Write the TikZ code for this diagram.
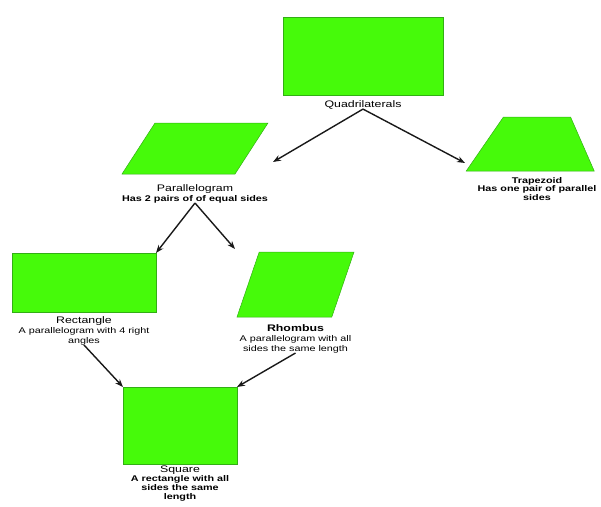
\documentclass[tikz,border=0pt]{standalone}
\usepackage{fontspec}
\setmainfont{Liberation Sans}[FakeStretch=1.3]
\usetikzlibrary{positioning,shapes.geometric,arrows.meta}
\definecolor{shapegreen}{RGB}{70,250,10}
\definecolor{edgegreen}{RGB}{50,175,20}
\definecolor{arrowgrey}{RGB}{25,25,25}
\newcommand{\ttl}{\fontsize{9.5}{10}\selectfont}

\begin{document}
\begin{tikzpicture}[x=1pt,y=-1pt]
  \useasboundingbox (0,0) rectangle (601,506);
  \begin{scope}[
    every node/.style={
      draw=edgegreen,
      fill=shapegreen,
      line width=0.5pt,
      inner sep=0pt,
      outer sep=0pt,
    },
    skewbox/.style={
      trapezium,
      trapezium stretches=true,
      inner sep=1pt,
    },
    ]
    \node[minimum width=160pt,minimum height=78pt] (quad) at (363,56) {};
    \node[skewbox,trapezium left angle=67.6,trapezium right angle=112.4,
      minimum width=146pt,minimum height=51pt] (para) at (195,148.5) {};
    \node[skewbox,trapezium left angle=61,trapezium right angle=70.6,
      minimum width=128pt,minimum height=54pt] (trap) at (537,144) {};
    \node[minimum width=144pt,minimum height=59pt] (rect) at (84,282.5) {};
    \node[skewbox,trapezium left angle=73,trapezium right angle=107,
      minimum width=117pt,minimum height=65pt] (rhomb) at (295.5,284.5) {};
    \node[minimum width=114pt,minimum height=77pt] (square) at (180,425.5) {};
  \end{scope}
  \begin{scope}[
    every node/.style={
      inner sep=0pt,
      align=center,
      font=\fontsize{8.3}{10}\selectfont,
    },
    ]
    \node[below=5pt of quad] (quad-lbl) {{\ttl Quadrilaterals}};
    \node[below=10pt of para] (para-lbl)
    {{\ttl Parallelogram}\\\textbf{Has 2 pairs of of equal sides}};
    \node[below=6pt of trap,font=\fontsize{8.3}{8.5}\selectfont] (trap-lbl)
    {\textbf{Trapezoid}\\\textbf{Has one pair of parallel}\\\textbf{sides}};
    \node[below=4pt of rect] (rect-lbl)
    {{\ttl Rectangle}\\A parallelogram with 4 right\\angles};
    \node[below=7pt of rhomb] (rhomb-lbl)
    {{\ttl\bfseries Rhombus}\\A parallelogram with all\\sides the same length};
    \node[below=2pt of square,font=\fontsize{8.3}{9}\selectfont] (square-lbl)
    {{\ttl Square}\\\textbf{A rectangle with all}\\\textbf{sides the same}\\\textbf{length}};
  \end{scope}
  \coordinate (para-in) at (273,162);
  \coordinate (trap-in) at (465,163);
  \coordinate (rhomb-in) at (235,249);
  \begin{scope}[every path/.style={draw=arrowgrey,line width=1.4pt,
      -{Stealth[length=8pt,width=6pt]}}]
    \path (quad-lbl.south) -- (para-in);
    \path (quad-lbl.south) -- (trap-in);
    \path (para-lbl.south) -- (rect.north east);
    \path (para-lbl.south) -- (rhomb-in);
    \path (rect-lbl.south) -- (square.north west);
    \path (rhomb-lbl.south) -- (square.north east);
  \end{scope}
\end{tikzpicture}
\end{document}
